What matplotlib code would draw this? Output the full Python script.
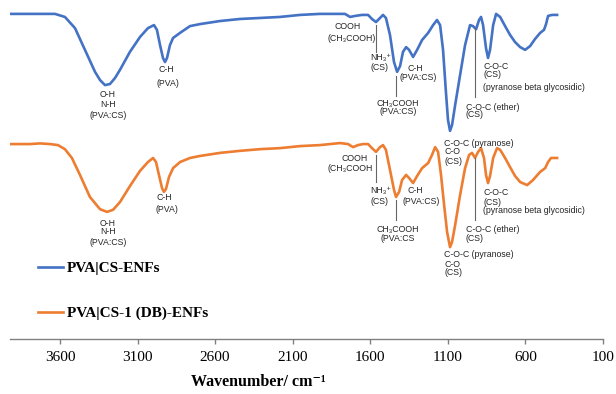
import matplotlib
matplotlib.use("Agg")
import matplotlib.pyplot as plt

# spectra (wavenumber in cm-1, transmittance in a.u.)
wn_pva_cs = [3922, 3793, 3632, 3568, 3503, 3439, 3374, 3342, 3310, 3278, 3245, 3213,
             3149, 3084, 3033, 2994, 2975, 2955, 2936, 2923, 2910, 2891, 2871, 2826,
             2762, 2697, 2568, 2440, 2311, 2182, 2053, 1924, 1763, 1730, 1698, 1653,
             1614, 1589, 1563, 1537, 1518, 1499, 1473, 1447, 1427, 1408, 1389, 1369,
             1350, 1324, 1298, 1266, 1227, 1195, 1170, 1150, 1131, 1111, 1099, 1086,
             1073, 1053, 1021, 989, 957, 938, 918, 899, 886, 873, 854, 841, 828, 808,
             789, 763, 731, 699, 667, 634, 602, 570, 538, 505, 480, 467, 454, 428, 396]
t_pva_cs = [95.9, 95.9, 95.9, 95.0, 91.7, 85.3, 78.8, 76.4, 74.9, 75.2, 77.0, 79.4,
            84.7, 89.1, 91.7, 92.6, 91.2, 86.7, 82.9, 81.7, 82.9, 86.7, 88.8, 90.3,
            92.3, 92.9, 93.8, 94.4, 94.7, 95.0, 95.6, 95.9, 95.9, 95.0, 95.3, 95.6,
            95.6, 94.4, 93.5, 94.7, 95.6, 94.7, 89.7, 81.7, 78.8, 80.5, 84.7, 86.1,
            85.3, 83.2, 85.3, 88.2, 90.3, 92.6, 94.1, 92.6, 85.3, 72.0, 64.6, 61.4,
            63.1, 69.0, 77.9, 86.7, 92.6, 92.3, 91.4, 94.1, 95.0, 92.6, 85.8, 82.9,
            85.3, 92.6, 95.9, 95.0, 92.3, 89.7, 87.6, 86.1, 85.3, 86.4, 88.5, 90.3,
            91.2, 92.9, 95.3, 95.6, 95.6]

wn_pva_cs_db = [3922, 3793, 3729, 3664, 3613, 3568, 3523, 3471, 3407, 3342, 3297, 3258,
                3213, 3149, 3084, 3033, 3000, 2981, 2962, 2942, 2930, 2917, 2897, 2871,
                2826, 2762, 2697, 2568, 2440, 2311, 2182, 2053, 1924, 1795, 1743, 1711,
                1679, 1647, 1614, 1589, 1563, 1537, 1518, 1499, 1473, 1447, 1434, 1414,
                1395, 1369, 1350, 1324, 1298, 1266, 1227, 1202, 1182, 1163, 1144, 1124,
                1105, 1086, 1073, 1053, 1021, 989, 963, 944, 925, 905, 886, 867, 854,
                841, 828, 808, 783, 763, 731, 699, 667, 634, 589, 551, 505, 473, 454,
                435, 396]
t_pva_cs_db = [57.5, 57.5, 57.7, 57.5, 57.2, 56.0, 53.4, 48.4, 41.9, 38.3, 37.5, 38.1,
               40.4, 45.1, 49.6, 52.2, 53.4, 52.2, 48.4, 44.5, 43.4, 44.2, 47.8, 50.4,
               52.2, 53.4, 54.0, 54.9, 55.5, 56.0, 56.3, 56.9, 57.2, 57.8, 57.5, 56.6,
               57.2, 57.5, 57.5, 56.3, 55.2, 56.6, 57.2, 55.8, 49.9, 44.0, 41.9, 43.4,
               46.9, 48.4, 47.5, 46.0, 48.1, 50.4, 51.9, 54.3, 56.6, 55.2, 48.4, 39.5,
               31.6, 27.1, 28.6, 33.6, 42.5, 50.4, 54.3, 54.9, 53.4, 55.2, 56.3, 53.4,
               48.4, 46.0, 48.1, 53.4, 56.3, 55.8, 53.4, 50.7, 48.1, 46.3, 45.4, 46.9,
               49.3, 50.4, 52.2, 53.4, 53.4]

series_names = ["PVA|CS-ENFs", "PVA|CS-1 (DB)-ENFs"]
series_colors = ["#4472C4", "#ED7D31"]
tick_values = [3600, 3100, 2600, 2100, 1600, 1100, 600, 100]

# band labels: (text, wavenumber, y, ha)
labels_top = [
    ("O-H", 3291, 72.0, "center"), ("N-H", 3291, 69.3, "center"),
    ("(PVA:CS)", 3291, 65.8, "center"),
    ("C-H", 2917, 79.4, "center"), ("(PVA)", 2904, 75.5, "center"),
    ("COOH", 1743, 92.3, "center"), ("(CH₃COOH)", 1717, 88.5, "center"),
    ("NH₃⁺", 1601, 82.9, "left"), ("(CS)", 1601, 80.2, "left"),
    ("CH₃COOH", 1421, 69.6, "center"), ("(PVA:CS)", 1421, 67.0, "center"),
    ("C-H", 1311, 79.9, "center"), ("(PVA:CS)", 1292, 77.0, "center"),
    ("C-O-C (pyranose)", 1124, 57.8, "left"), ("C-O", 1124, 55.2, "left"),
    ("(CS)", 1124, 52.5, "left"),
    ("C-O-C (ether)", 983, 68.4, "left"), ("(CS)", 983, 66.1, "left"),
    ("C-O-C", 873, 80.5, "left"), ("(CS)", 873, 77.9, "left"),
    ("(pyranose beta glycosidic)", 873, 74.3, "left"),
]
labels_bottom = [
    ("O-H", 3291, 34.2, "center"), ("N-H", 3291, 31.6, "center"),
    ("(PVA:CS)", 3291, 28.6, "center"),
    ("C-H", 2930, 41.6, "center"), ("(PVA)", 2910, 38.1, "center"),
    ("COOH", 1698, 53.1, "center"), ("(CH₃COOH", 1730, 50.4, "center"),
    ("NH₃⁺", 1601, 43.7, "left"), ("(CS)", 1601, 40.7, "left"),
    ("CH₃COOH", 1421, 32.2, "center"), ("(PVA:CS", 1421, 29.5, "center"),
    ("C-H", 1311, 43.7, "center"), ("(PVA:CS)", 1273, 40.7, "center"),
    ("C-O-C (pyranose)", 1124, 24.8, "left"), ("C-O", 1124, 22.1, "left"),
    ("(CS)", 1124, 19.5, "left"),
    ("C-O-C (ether)", 983, 32.2, "left"), ("(CS)", 983, 29.5, "left"),
    ("C-O-C", 873, 43.1, "left"), ("(CS)", 873, 40.4, "left"),
    ("(pyranose beta glycosidic)", 873, 37.8, "left"),
]
# leader lines: (wavenumber, y_from, y_to)
leaders = [
    (1563, 92.6, 84.7), (1434, 77.6, 71.7), (925, 91.7, 71.4),
    (1563, 54.3, 46.3), (1434, 41.0, 35.1), (925, 53.4, 35.1),
]

serif = ["Liberation Serif", "DejaVu Serif"]
sans = ["Liberation Sans", "DejaVu Sans"]

fig = plt.figure(figsize=(6.16, 3.94), dpi=100)
ax = fig.add_axes([10 / 616, 55 / 394, 593 / 616, 339 / 394])

ax.plot(wn_pva_cs, t_pva_cs, color=series_colors[0], lw=1.9,
        solid_joinstyle="round", label=series_names[0])
ax.plot(wn_pva_cs_db, t_pva_cs_db, color=series_colors[1], lw=1.9,
        solid_joinstyle="round", label=series_names[1])

for x, y0, y1 in leaders:
    ax.plot([x, x], [y0, y1], color="#666666", lw=0.8)

for txt, x, y, ha in labels_top + labels_bottom:
    ax.text(x, y, txt, ha=ha, va="center", fontsize=6.3,
            family=sans, color="#262626")

ax.set_xlim(3922, 100)
ax.set_ylim(0, 100)
ax.set_xticks(tick_values)
ax.set_xticklabels([str(t) for t in tick_values], family=serif, fontsize=11)
ax.set_yticks([])
for s in ["top", "left", "right"]:
    ax.spines[s].set_visible(False)
ax.spines["bottom"].set_color("#808080")
ax.spines["bottom"].set_linewidth(1.0)
ax.tick_params(axis="x", direction="out", length=3.5, width=1.0,
               color="#808080", pad=5)

leg = ax.legend(loc="center left", bbox_to_anchor=(30 / 616, 103 / 394),
                bbox_transform=fig.transFigure, frameon=False, borderpad=0,
                handlelength=1.65, handletextpad=0.25, labelspacing=2.05,
                prop={"family": serif, "weight": "bold", "size": 11})

fig.text(258 / 616, 12 / 394, "Wavenumber/ cm⁻¹", ha="center", va="center",
         family=serif, fontweight="bold", fontsize=11.5)

fig.savefig("out.png", dpi=100)
